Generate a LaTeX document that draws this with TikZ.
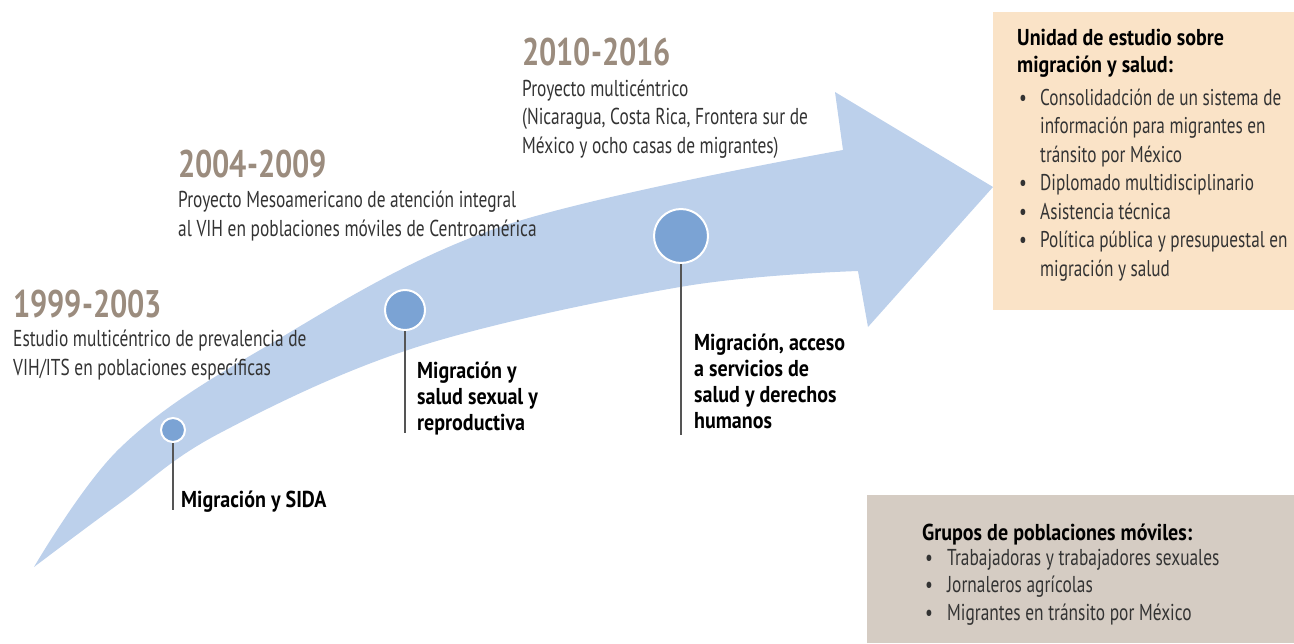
\documentclass[tikz,border=0pt]{standalone}
\usepackage{fontspec}
\setmainfont[FakeStretch=0.755]{PT Sans}
\newfontfamily\yearfont[FakeStretch=0.79]{PT Sans}
\newfontfamily\labfont[FakeStretch=0.87]{PT Sans}
\definecolor{bandc}{HTML}{BCD0EB}
\definecolor{dotc}{HTML}{7BA3D4}
\definecolor{yearc}{HTML}{9B8C7E}
\definecolor{txtc}{HTML}{333333}
\definecolor{stemc}{HTML}{555555}
\definecolor{orangebox}{HTML}{FAE3C7}
\definecolor{greybox}{HTML}{D5CCC3}
\begin{document}
\begin{tikzpicture}[x=1pt,y=-1pt,
  desc/.style={anchor=base west, inner sep=0, align=left, text=txtc, font=\fontsize{23}{28.5}\selectfont},
  yr/.style={anchor=base west, inner sep=0, text=yearc, font=\yearfont\bfseries\fontsize{38.5}{38}\selectfont},
  lab/.style={anchor=base west, inner sep=0, align=left, text=black, font=\labfont\bfseries\fontsize{23}{26}\selectfont},
  dot/.style={circle, fill=dotc, draw=white, line width=2pt, inner sep=0},
  stem/.style={draw=stemc, line width=1.2pt},
  lst/.style={anchor=base west, inner sep=0, text=txtc, font=\fontsize{23}{28.5}\selectfont}]
\useasboundingbox (0,0) rectangle (1294,643);
% curved arrow
\fill[bandc] (34,567)
  -- plot[smooth, tension=0.6] coordinates {(34,567) (120,448) (260,350) (500,227) (843,150)}
  -- (835,92) -- (993,187) -- (868,327) -- (858,271)
  -- plot[smooth, tension=0.6] coordinates {(858,271) (680,287) (417,347) (220,433) (120,503) (34,567)}
  -- cycle;
% boxes
\fill[orangebox] (993,12) rectangle (1294,310);
\fill[greybox] (867,495) rectangle (1294,643);
% dots
\node[dot, minimum size=24pt] (c1) at (173,430) {};
\node[dot, minimum size=40pt] (c2) at (405,310) {};
\node[dot, minimum size=54pt] (c3) at (681,236) {};
\coordinate (e1) at (173,510);
\coordinate (e2) at (405,433);
\coordinate (e3) at (681,435);
\draw[stem] (c1.south) -- (e1);
\draw[stem] (c2.south) -- (e2);
\draw[stem] (c3.south) -- (e3);
% years
\node[yr] (y1) at (13,317) {1999-2003};
\node[yr] (y2) at (178,177) {2004-2009};
\node[yr] (y3) at (522,65) {2010-2016};
% descriptions (anchor = baseline of last line)
\node[desc] (d1) at (13,375) {Estudio multicéntrico de prevalencia de\\VIH/ITS en poblaciones específicas};
\node[desc] (d2) at (178,236) {Proyecto Mesoamericano de atención integral\\al VIH en poblaciones móviles de Centroamérica};
\node[desc] (d3) at (522,153) {Proyecto multicéntrico\\(Nicaragua, Costa Rica, Frontera sur de\\México y ocho casas de migrantes)};
% labels
\node[lab] (l1) at (181,507) {Migración y SIDA};
\node[lab] (l2) at (417,430) {Migración y\\salud sexual y\\reproductiva};
\node[lab] (l3) at (694,428) {Migración, acceso\\a servicios de\\salud y derechos\\humanos};
% right box
\node[lab, font=\labfont\bfseries\fontsize{23}{27}\selectfont] (t1) at (1017,72) {Unidad de estudio sobre\\migración y salud:};
\node[lst, font=\fontsize{22.8}{28.5}\selectfont] (u1) at (1019,105) {\begin{tabular}[t]{@{}p{21pt}@{}l@{}}
\textbullet & Consolidadción de un sistema de\\
 & información para migrantes en\\
 & tránsito por México\\
\textbullet & Diplomado multidisciplinario\\
\textbullet & Asistencia técnica\\
\textbullet & Política pública y presupuestal en\\
 & migración y salud
\end{tabular}};
% bottom box
\node[lab] (t2) at (922,540) {Grupos de poblaciones móviles:};
\node[lst, font=\fontsize{23}{27.5}\selectfont] (u2) at (925,565) {\begin{tabular}[t]{@{}p{22pt}@{}l@{}}
\textbullet & Trabajadoras y trabajadores sexuales\\
\textbullet & Jornaleros agrícolas\\
\textbullet & Migrantes en tránsito por México
\end{tabular}};
\end{tikzpicture}
\end{document}
